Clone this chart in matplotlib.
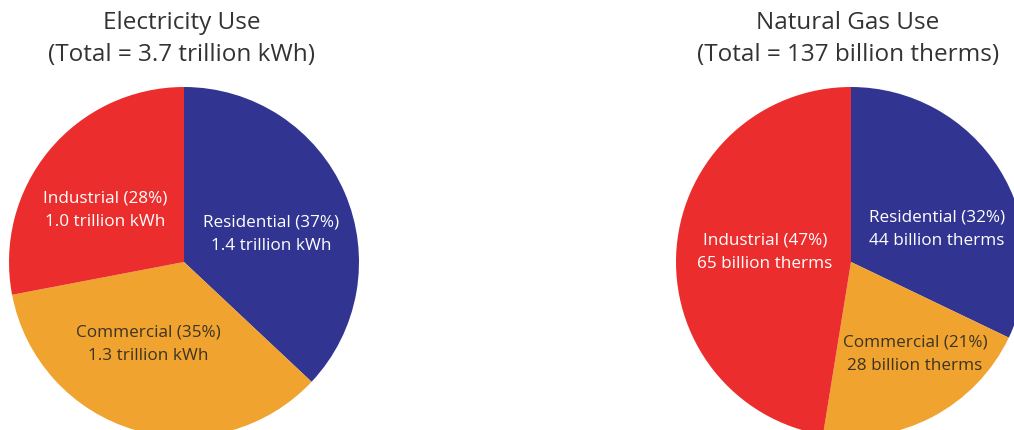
import matplotlib
matplotlib.use("Agg")
import matplotlib.pyplot as plt

# data
elec_labels = ["Residential", "Commercial", "Industrial"]
elec_pct = [37, 35, 28]
elec_amount = ["1.4 trillion kWh", "1.3 trillion kWh", "1.0 trillion kWh"]

gas_labels = ["Residential", "Commercial", "Industrial"]
gas_values = [44, 28, 65]  # billion therms
gas_pct = [32, 21, 47]

titles = ["Electricity Use\n(Total = 3.7 trillion kWh)",
          "Natural Gas Use\n(Total = 137 billion therms)"]

colors = ["#313591", "#F0A32E", "#EB2D2E"]
text_colors = ["white", "#3b3424", "white"]

W, H = 1014, 431
fig = plt.figure(figsize=(W / 100, H / 100), dpi=100)
plt.rcParams["font.family"] = ["Open Sans", "DejaVu Sans"]

R = 175


def pie_axes(cx, cy):
    # place an axes so the unit circle lands at pixel centre (cx, cy) with radius R
    ax = fig.add_axes([(cx - R) / W, (H - cy - R) / H, 2 * R / W, 2 * R / H])
    ax.set_xlim(-1, 1)
    ax.set_ylim(-1, 1)
    ax.set_axis_off()
    return ax


def draw(ax, values, texts, label_pos, title, title_x):
    ax.pie(values, colors=colors, startangle=90, counterclock=False, radius=1,
           wedgeprops=dict(linewidth=0), frame=False)
    ax.set_xlim(-1, 1)
    ax.set_ylim(-1, 1)
    for t, (x, y), c in zip(texts, label_pos, text_colors):
        ax.text(x, y, t, ha="center", va="center", color=c, fontsize=12.3,
                linespacing=1.62)
    fig.text(title_x / W, 1 - 39 / H, title, ha="center", va="center",
             fontsize=17.5, color="#333333", linespacing=1.48)


ax1 = pie_axes(184, 263)
elec_text = [f"{l} ({p}%)\n{a}" for l, p, a in zip(elec_labels, elec_pct, elec_amount)]
draw(ax1, elec_pct, elec_text,
     [(0.497, 0.166), (-0.206, -0.463), (-0.451, 0.303)], titles[0], 182)

ax2 = pie_axes(851, 263)
gas_text = [f"{l} ({p}%)\n{v} billion therms" for l, p, v in zip(gas_labels, gas_pct, gas_values)]
draw(ax2, gas_values, gas_text,
     [(0.491, 0.191), (0.366, -0.52), (-0.491, 0.063)], titles[1], 848)

fig.savefig("out.png", dpi=100)
